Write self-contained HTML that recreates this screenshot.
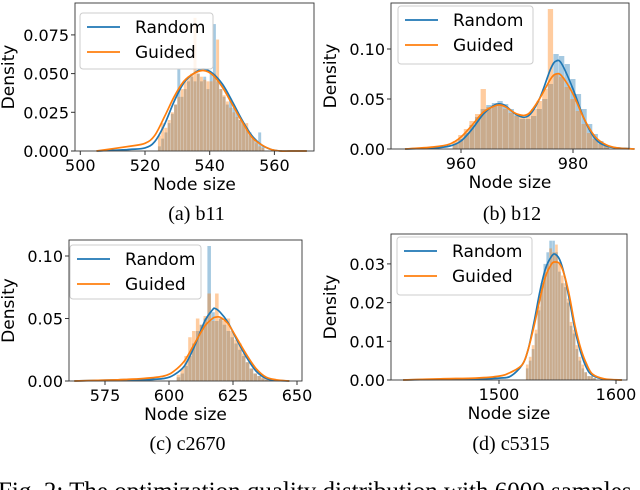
<!DOCTYPE html>
<html><head><meta charset="utf-8">
<style>
html,body{margin:0;padding:0;background:#fff;}
svg{display:block;}
text{font-family:"DejaVu Sans","Liberation Sans",sans-serif;}
.cap{font-family:"Liberation Serif","DejaVu Serif",serif;font-size:20px;}
</style></head>
<body>
<svg id="fig" width="640" height="490" viewBox="0 0 640 490" xmlns="http://www.w3.org/2000/svg"></svg>
<script>
// ---- data (a) b11 ----
const aBinStart = 524, aBinWidth = 1;
const aRandomBins = [0.003,0.008,0.012,0.018,0.024,0.030,0.053,0.035,0.040,0.045,0.048,0.045,0.050,0.045,0.048,0.040,0.050,0.082,0.045,0.040,0.035,0.030,0.033,0.028,0.025,0.020,0.018,0.015,0.012,0.008,0.006,0.012,0.003];
const aGuidedBins = [0.010,0.018,0.015,0.020,0.025,0.030,0.035,0.040,0.045,0.048,0.050,0.086,0.050,0.048,0.046,0.045,0.045,0.050,0.072,0.040,0.036,0.032,0.028,0.025,0.022,0.020,0.018,0.018,0.010,0.008,0.005,0.003,0.002];
const aKdeX = [505,515,520,523,526,529,532,535,538,541,544,547,550,553,556,559,562,565,570];
const aKdeRandom = [0,0.001,0.002,0.006,0.017,0.032,0.044,0.050,0.053,0.050,0.043,0.032,0.020,0.010,0.004,0.001,0,0,0];
const aKdeGuided = [0,0.003,0.005,0.010,0.022,0.035,0.045,0.050,0.052,0.049,0.041,0.030,0.019,0.009,0.004,0.001,0,0,0];
const aXTicks = [500,520,540,560];
const aYTicks = ["0.000","0.025","0.050","0.075"];
// ---- data (b) b12 ----
const bBinStart = 958.5, bBinWidth = 1;
const bRandomBins = [0.005,0.010,0.016,0.024,0.032,0.040,0.044,0.046,0.048,0.045,0.040,0.034,0.030,0.030,0.033,0.040,0.050,0.065,0.095,0.093,0.085,0.070,0.055,0.040,0.025,0.015,0.008,0.004];
const bGuidedBins = [0.008,0.014,0.020,0.028,0.035,0.060,0.042,0.044,0.045,0.040,0.036,0.033,0.032,0.035,0.040,0.048,0.060,0.140,0.075,0.072,0.062,0.050,0.038,0.025,0.016,0.010,0.005,0.003];
const bKdeX = [950,955,958,960,962,964,966,967,968,970,972,974,976,977,978,980,982,984,986,988,991];
const bKdeRandom = [0,0.001,0.003,0.008,0.020,0.035,0.044,0.045,0.043,0.034,0.033,0.050,0.080,0.088,0.085,0.060,0.030,0.010,0.003,0.001,0];
const bKdeGuided = [0,0.002,0.005,0.012,0.024,0.037,0.043,0.044,0.042,0.035,0.035,0.050,0.070,0.075,0.073,0.055,0.030,0.012,0.004,0.001,0];
const bXTicks = [960,980];
const bYTicks = ["0.00","0.05","0.10"];
// ---- data (c) c2670 ----
const cBinStart = 603, cBinWidth = 1.5;
const cRandomBins = [0.003,0.006,0.012,0.020,0.030,0.040,0.045,0.050,0.108,0.055,0.048,0.050,0.045,0.040,0.035,0.030,0.025,0.020,0.015,0.010,0.006,0.004,0.002,0.001,0.001];
const cGuidedBins = [0.005,0.010,0.020,0.035,0.040,0.050,0.045,0.052,0.070,0.048,0.070,0.050,0.048,0.050,0.040,0.033,0.030,0.022,0.015,0.010,0.006,0.004,0.003,0.002,0.001];
const cKdeX = [563,580,590,598,602,606,610,614,617,618,620,623,626,630,634,638,642,647];
const cKdeRandom = [0,0.001,0.001,0.002,0.005,0.012,0.028,0.048,0.057,0.058,0.055,0.047,0.035,0.020,0.008,0.002,0.0005,0];
const cKdeGuided = [0,0.001,0.002,0.004,0.008,0.016,0.030,0.044,0.050,0.051,0.051,0.046,0.036,0.022,0.010,0.003,0.001,0];
const cXTicks = [575,600,625,650];
const cYTicks = ["0.00","0.05","0.10"];
// ---- data (d) c5315 ----
const dBinStart = 1523, dBinWidth = 2.5;
const dRandomBins = [0.003,0.005,0.008,0.012,0.018,0.025,0.030,0.033,0.036,0.036,0.033,0.028,0.025,0.024,0.020,0.014,0.012,0.008,0.005,0.003,0.002,0.001,0.001,0.0005];
const dGuidedBins = [0.004,0.006,0.009,0.013,0.019,0.024,0.028,0.030,0.034,0.033,0.035,0.030,0.027,0.025,0.021,0.015,0.013,0.009,0.006,0.004,0.002,0.001,0.001,0.0005];
const dKdeX = [1418,1450,1480,1500,1510,1520,1525,1530,1535,1540,1545,1548,1552,1556,1560,1565,1570,1575,1580,1590,1605];
const dKdeRandom = [0,0.0002,0.0003,0.0005,0.001,0.004,0.008,0.015,0.023,0.029,0.032,0.0325,0.031,0.027,0.021,0.013,0.007,0.003,0.0012,0.0002,0];
const dKdeGuided = [0,0.0003,0.0005,0.001,0.002,0.004,0.008,0.014,0.021,0.027,0.030,0.0305,0.030,0.027,0.022,0.014,0.008,0.004,0.0015,0.0003,0];
const dXTicks = [1500,1600];
const dYTicks = ["0.00","0.01","0.02","0.03"];

const NS = "http://www.w3.org/2000/svg";
const fig = document.getElementById('fig');
function mk(tag, parent){ const e=document.createElementNS(NS,tag); parent.appendChild(e); return e; }
function smoothPath(pts){
  let d = 'M'+pts[0][0].toFixed(1)+','+pts[0][1].toFixed(1);
  for(let i=0;i<pts.length-1;i++){
    const p0=pts[Math.max(0,i-1)], p1=pts[i], p2=pts[i+1], p3=pts[Math.min(pts.length-1,i+2)];
    const c1=[p1[0]+(p2[0]-p0[0])/6, p1[1]+(p2[1]-p0[1])/6];
    const c2=[p2[0]-(p3[0]-p1[0])/6, p2[1]-(p3[1]-p1[1])/6];
    d+=' C'+c1[0].toFixed(1)+','+c1[1].toFixed(1)+' '+c2[0].toFixed(1)+','+c2[1].toFixed(1)+' '+p2[0].toFixed(1)+','+p2[1].toFixed(1);
  }
  return d;
}

const panels = [
 {id:'a', cap:'(a) b11', L:75,R:314,T:3,B:151, x0:500,px0:80.3,xs:64.7/20, ys:38.7/0.025, leg:[80,13,133,56],
  bs:aBinStart,bw:aBinWidth,rb:aRandomBins,gb:aGuidedBins,kx:aKdeX,kr:aKdeRandom,kg:aKdeGuided,xt:aXTicks,yt:aYTicks, capY:220},
 {id:'b', cap:'(b) b12', L:391,R:629,T:3,B:149, x0:960,px0:461,xs:112/20, ys:50/0.05, leg:[398,6,135,58],
  bs:bBinStart,bw:bBinWidth,rb:bRandomBins,gb:bGuidedBins,kx:bKdeX,kr:bKdeRandom,kg:bKdeGuided,xt:bXTicks,yt:bYTicks, capY:220},
 {id:'c', cap:'(c) c2670', L:69,R:302,T:240,B:381, x0:575,px0:105,xs:64/25, ys:62.5/0.05, leg:[70,245,131,54],
  bs:cBinStart,bw:cBinWidth,rb:cRandomBins,gb:cGuidedBins,kx:cKdeX,kr:cKdeRandom,kg:cKdeGuided,xt:cXTicks,yt:cYTicks, capY:450},
 {id:'d', cap:'(d) c5315', L:391,R:627,T:234,B:380, x0:1500,px0:499,xs:117/100, ys:38.7/0.01, leg:[397,237,135,58],
  bs:dBinStart,bw:dBinWidth,rb:dRandomBins,gb:dGuidedBins,kx:dKdeX,kr:dKdeRandom,kg:dKdeGuided,xt:dXTicks,yt:dYTicks, capY:450}
];
const BLUE='#1f77b4', ORANGE='#ff7f0e';

panels.forEach(p=>{
  const X = v => p.px0 + (v - p.x0)*p.xs;
  const Y = v => p.B - v*p.ys;
  const g = mk('g', fig);
  
  
  [[p.rb,BLUE,'random'],[p.gb,ORANGE,'guided']].forEach(([arr,col,nm])=>{
    const hg = mk('g', g);
    
    
    arr.forEach((h,i)=>{
      const r = mk('rect', hg);
      const x1 = X(p.bs + i*p.bw), x2 = X(p.bs + (i+1)*p.bw);
      r.setAttribute('x', x1); r.setAttribute('width', Math.max(0.5,x2-x1-0.3));
      r.setAttribute('y', Y(h)); r.setAttribute('height', p.B - Y(h));
      r.setAttribute('fill', col); r.setAttribute('fill-opacity', '0.4');
      
      
    });
  });
  [[p.kr,BLUE,'random'],[p.kg,ORANGE,'guided']].forEach(([arr,col,nm])=>{
    const pl = mk('path', g);
    pl.setAttribute('d', smoothPath(arr.map((v,i)=>[X(p.kx[i]),Y(v)])));
    pl.setAttribute('fill','none'); pl.setAttribute('stroke',col); pl.setAttribute('stroke-width','1.7');
    
    
  });
  const fr = mk('rect', g);
  fr.setAttribute('x',p.L); fr.setAttribute('y',p.T); fr.setAttribute('width',p.R-p.L); fr.setAttribute('height',p.B-p.T);
  fr.setAttribute('fill','none'); fr.setAttribute('stroke','#333'); fr.setAttribute('stroke-width','0.9');
  
  
  p.xt.forEach(t=>{
    const x = X(t);
    const l = mk('line', g); l.setAttribute('x1',x); l.setAttribute('x2',x); l.setAttribute('y1',p.B); l.setAttribute('y2',p.B+4); l.setAttribute('stroke','#333');
    
    
    const tx = mk('text', g); tx.setAttribute('x',x); tx.setAttribute('y',p.B+20); tx.setAttribute('text-anchor','middle'); tx.setAttribute('font-size','16'); tx.textContent=t;
    
    
  });
  p.yt.forEach(t=>{
    const y = Y(parseFloat(t));
    const l = mk('line', g); l.setAttribute('x1',p.L-4); l.setAttribute('x2',p.L); l.setAttribute('y1',y); l.setAttribute('y2',y); l.setAttribute('stroke','#333');
    
    
    const tx = mk('text', g); tx.setAttribute('x',p.L-6); tx.setAttribute('y',y+6); tx.setAttribute('text-anchor','end'); tx.setAttribute('font-size','16'); tx.textContent=t;
    
    
  });
  const xl = mk('text', g); xl.setAttribute('x',(p.L+p.R)/2); xl.setAttribute('y',p.B+39); xl.setAttribute('text-anchor','middle'); xl.setAttribute('font-size','17'); xl.textContent='Node size';
  
  
  const yx = (p.id==='a'||p.id==='c') ? 14 : 336;
  const yl = mk('text', g); yl.setAttribute('transform','translate('+yx+','+((p.T+p.B)/2)+') rotate(-90)'); yl.setAttribute('text-anchor','middle'); yl.setAttribute('font-size','17'); yl.textContent='Density';
  
  
  const [lx,ly,lw,lh] = p.leg;
  const lg = mk('g', g);
  
  
  const lb = mk('rect', lg); lb.setAttribute('x',lx); lb.setAttribute('y',ly); lb.setAttribute('width',lw); lb.setAttribute('height',lh); lb.setAttribute('rx','3');
  lb.setAttribute('fill','#fff'); lb.setAttribute('fill-opacity','0.8'); lb.setAttribute('stroke','#ccc');
  
  
  [['Random',BLUE,14],['Guided',ORANGE,39]].forEach(([nm,col,dy])=>{
    const ll = mk('line', lg); ll.setAttribute('x1',lx+7); ll.setAttribute('x2',lx+40); ll.setAttribute('y1',ly+dy); ll.setAttribute('y2',ly+dy); ll.setAttribute('stroke',col); ll.setAttribute('stroke-width','1.7');
    
    
    const lt = mk('text', lg); lt.setAttribute('x',lx+55); lt.setAttribute('y',ly+dy+6); lt.setAttribute('font-size','17'); lt.textContent=nm;
    
    
  });
  const cp = mk('text', fig); cp.setAttribute('class','cap'); cp.setAttribute('x',(p.L+p.R)/2 + 2); cp.setAttribute('y',p.capY); cp.setAttribute('text-anchor','middle'); cp.textContent=p.cap;
  
  
});
const fc = mk('text', fig); fc.setAttribute('class','cap'); fc.setAttribute('x','-2'); fc.setAttribute('y','499'); fc.setAttribute('style','font-size:25px'); fc.textContent='Fig. 2: The optimization quality distribution with 6000 samples';


</script>
</body></html>
